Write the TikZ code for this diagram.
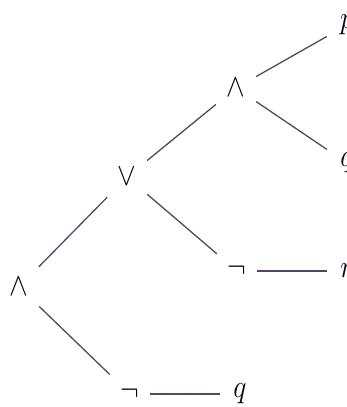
\documentclass[tikz,border=0pt]{standalone}
\usepackage{fix-cm}
\begin{document}
\begin{tikzpicture}[x=1pt,y=-1pt,
  tnode/.style={rectangle,inner sep=0pt,minimum width=40pt,minimum height=40pt,
    font=\fontsize{28}{32}\selectfont,text=black!90!blue},
  edge/.style={draw={rgb,255:red,85;green,70;blue,105},line width=1.3pt}]
\useasboundingbox (0,0) rectangle (346,407);
\clip (0,0) rectangle (346,407);
\fill[white] (0,0) rectangle (346,407);
\node[tnode] (and1) at (19,287) {\scalebox{1}[1.15]{$\wedge$}};
\node[tnode] (or) at (127,177) {\scalebox{1}[1.15]{$\vee$}};
\node[tnode] (and2) at (236,88) {\scalebox{1}[1.15]{$\wedge$}};
\node[tnode] (p) at (347,25) {\scalebox{1}[1.15]{$p$}};
\node[tnode] (q1) at (347,163) {\scalebox{1}[1.15]{$q$}};
\node[tnode] (neg1) at (237,271) {\scalebox{1}[1.15]{$\neg$}};
\node[tnode] (r) at (347,271) {\scalebox{1}[1.15]{$r$}};
\node[tnode] (neg2) at (130,394) {\scalebox{1}[1.15]{$\neg$}};
\node[tnode] (q2) at (240,394) {\scalebox{1}[1.15]{$q$}};
\draw[edge] (and1) -- (or);
\draw[edge] (and1) -- (neg2);
\draw[edge] (or) -- (and2);
\draw[edge] (or) -- (neg1);
\draw[edge] (and2) -- (p);
\draw[edge] (and2) -- (q1);
\draw[edge] (neg1) -- (r);
\draw[edge] (neg2) -- (q2);
\end{tikzpicture}
\end{document}
